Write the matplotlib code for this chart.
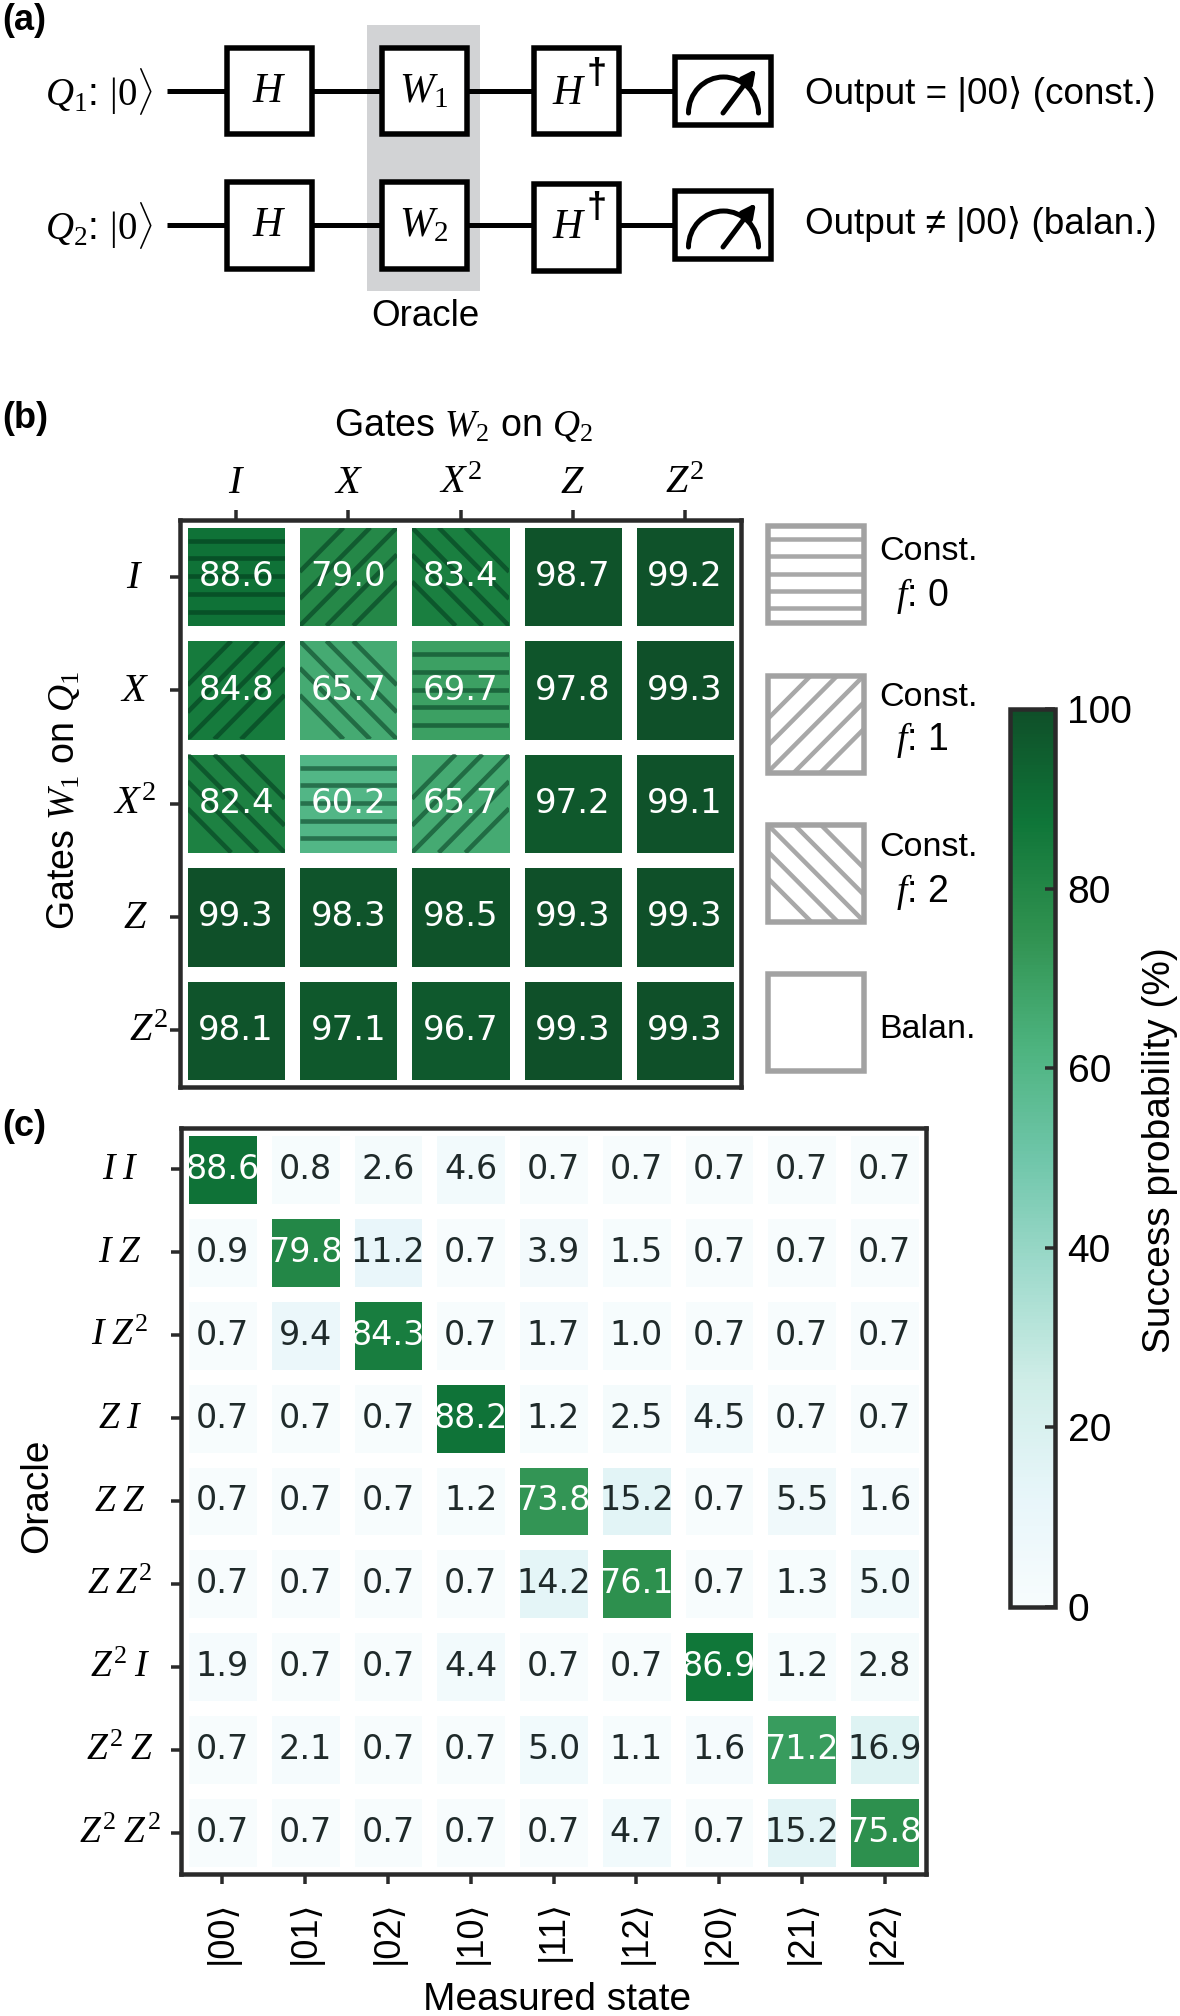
import numpy as np
import matplotlib
matplotlib.use('Agg')
import matplotlib.pyplot as plt
from matplotlib.collections import LineCollection
from matplotlib.colors import ListedColormap
from matplotlib.patches import Rectangle, Arc

plt.rcParams['font.family'] = ['Liberation Sans', 'DejaVu Sans']
plt.rcParams['mathtext.fontset'] = 'custom'
plt.rcParams['mathtext.rm'] = 'Liberation Serif'
plt.rcParams['mathtext.it'] = 'Liberation Serif:italic'
plt.rcParams['mathtext.bf'] = 'Liberation Serif:bold'

# panel b data
gates_w2 = [r'$I$', r'$X$', r'$X^2$', r'$Z$', r'$Z^2$']
gates_w1 = [r'$I$', r'$X$', r'$X^2$', r'$Z$', r'$Z^2$']
success_b = np.array([
    [88.6, 79.0, 83.4, 98.7, 99.2],
    [84.8, 65.7, 69.7, 97.8, 99.3],
    [82.4, 60.2, 65.7, 97.2, 99.1],
    [99.3, 98.3, 98.5, 99.3, 99.3],
    [98.1, 97.1, 96.7, 99.3, 99.3],
])
hatch_b = [
    ['-', '/', '\\', '', ''],
    ['/', '\\', '-', '', ''],
    ['\\', '-', '/', '', ''],
    ['', '', '', '', ''],
    ['', '', '', '', ''],
]

# panel c data
oracles = [r'$I\;I$', r'$I\;Z$', r'$I\;Z^2$', r'$Z\;I$', r'$Z\;Z$', r'$Z\;Z^2$',
           r'$Z^2\;I$', r'$Z^2\;Z$', r'$Z^2\;Z^2$']
states = ['|00⟩', '|01⟩', '|02⟩', '|10⟩', '|11⟩', '|12⟩', '|20⟩', '|21⟩', '|22⟩']
success_c = np.array([
    [88.6, 0.8, 2.6, 4.6, 0.7, 0.7, 0.7, 0.7, 0.7],
    [0.9, 79.8, 11.2, 0.7, 3.9, 1.5, 0.7, 0.7, 0.7],
    [0.7, 9.4, 84.3, 0.7, 1.7, 1.0, 0.7, 0.7, 0.7],
    [0.7, 0.7, 0.7, 88.2, 1.2, 2.5, 4.5, 0.7, 0.7],
    [0.7, 0.7, 0.7, 1.2, 73.8, 15.2, 0.7, 5.5, 1.6],
    [0.7, 0.7, 0.7, 0.7, 14.2, 76.1, 0.7, 1.3, 5.0],
    [1.9, 0.7, 0.7, 4.4, 0.7, 0.7, 86.9, 1.2, 2.8],
    [0.7, 2.1, 0.7, 0.7, 5.0, 1.1, 1.6, 71.2, 16.9],
    [0.7, 0.7, 0.7, 0.7, 0.7, 4.7, 0.7, 15.2, 75.8],
])
cbar_ticks = [0, 20, 40, 60, 80, 100]

W, H = 1180, 2016
px = 72 / 100  # pt per pixel
dark = '#2a2a2a'
gray = '#a2a2a2'

# BuGn a little washed out, as the printed figure
base = plt.get_cmap('BuGn')(np.linspace(0, 1, 256))[:, :3]
cmap = ListedColormap(base + (1 - base) * 0.06)

fig = plt.figure(figsize=(W / 100, H / 100), dpi=100)

def axes_px(x0, y0, x1, y1):
    return fig.add_axes([x0 / W, 1 - y1 / H, (x1 - x0) / W, (y1 - y0) / H])

def hatch(ax, x0, y0, w, h, kind, color, lw, alpha=1.0):
    # hatch lines inside a cell, y axis pointing down
    segs = []
    if kind == '-':
        for k in range(5):
            y = y0 + h * (0.135 + 0.18 * k)
            segs.append([(x0, y), (x0 + w, y)])
    elif kind in ('/', '\\'):
        for k in range(-2, 3):
            c = 0.275 * k
            u0, u1 = max(0, -c), min(1, 1 - c)
            if kind == '/':
                segs.append([(x0 + w * u0, y0 + h * (1 - u0 - c)), (x0 + w * u1, y0 + h * (1 - u1 - c))])
            else:
                segs.append([(x0 + w * u0, y0 + h * (u0 + c)), (x0 + w * u1, y0 + h * (u1 + c))])
    if not segs:
        return
    lc = LineCollection(segs, colors=color, linewidths=lw, alpha=alpha, zorder=3)
    ax.add_collection(lc)
    lc.set_clip_path(Rectangle((x0, y0), w, h, transform=ax.transData))

def heat(ax, values, txt_size, dark_text='#1f2a2a'):
    m = ax.pcolormesh(values, cmap=cmap, vmin=0, vmax=100, edgecolors='white', linewidth=15 * px)
    ax.invert_yaxis()
    for i in range(values.shape[0]):
        for j in range(values.shape[1]):
            col = 'white' if values[i, j] > 50 else dark_text
            ax.text(j + 0.5, i + 0.5, '%.1f' % values[i, j], ha='center', va='center',
                    fontsize=txt_size, color=col, family='DejaVu Sans', zorder=5)
    for s in ax.spines.values():
        s.set_linewidth(4.5 * px)
        s.set_color(dark)
        s.set_zorder(6)
    return m

# overlay for the drawn parts, in pixel coordinates
bg = fig.add_axes([0, 0, 1, 1], zorder=0)
bg.set_xlim(0, W)
bg.set_ylim(H, 0)
bg.axis('off')

# (a) circuit
bg.add_patch(Rectangle((367, 25), 113, 266, fc='#d2d3d5', ec='none', zorder=0))
for y in [91, 225]:
    bg.plot([167, 675], [y, y], color='black', lw=5 * px, solid_capstyle='butt', zorder=1)

def gate(x0, x1, y0, y1, label, lx=None, ly=None):
    bg.add_patch(Rectangle((x0, y0), x1 - x0, y1 - y0, fc='white', ec='black', lw=5.5 * px, zorder=2))
    bg.text((x0 + x1) / 2 if lx is None else lx, (y0 + y1) / 2 if ly is None else ly, label,
            ha='center', va='center', fontsize=30, zorder=3)

def meter(y0, y1):
    bg.add_patch(Rectangle((675, y0), 96, y1 - y0, fc='white', ec='black', lw=5.5 * px, zorder=2))
    b = y0 + 56
    bg.add_patch(Arc((723.5, b), 70, 72, theta1=180, theta2=360, color='black', lw=5 * px,
                     capstyle='round', zorder=3))
    bg.annotate('', xy=(756, b - 44), xytext=(723, b), zorder=3,
                arrowprops=dict(arrowstyle='-|>', color='black', lw=5 * px, mutation_scale=20,
                                shrinkA=0, shrinkB=0))

gate(227, 312, 48, 134, r'$H$')
gate(381.5, 466.5, 48, 134, r'$W_1$')
gate(534, 619, 48, 134, r'$H$', 569, 93)
bg.text(597, 75, '†', ha='center', va='center', fontsize=26, fontweight='bold', zorder=3)
meter(57, 125)
gate(227, 312, 182, 269, r'$H$')
gate(381.5, 466.5, 182, 269, r'$W_2$')
gate(534, 619, 184, 271, r'$H$', 569, 227)
bg.text(597, 209, '†', ha='center', va='center', fontsize=26, fontweight='bold', zorder=3)
meter(191, 259)

bg.text(99, 91, r'$Q_1$: $|0\rangle$', ha='center', va='center', fontsize=28)
bg.text(99, 225, r'$Q_2$: $|0\rangle$', ha='center', va='center', fontsize=28)
bg.text(805, 94, 'Output = |00⟩ (const.)', ha='left', va='center', fontsize=26.6)
bg.text(805, 224, 'Output ≠ |00⟩ (balan.)', ha='left', va='center', fontsize=26.6)
bg.text(425, 316, 'Oracle', ha='center', va='center', fontsize=26.5)

for lab, y in [('(a)', 20), ('(b)', 419), ('(c)', 1127)]:
    bg.text(2, y, lab, ha='left', va='center', fontsize=26, fontweight='bold')

# (b) heatmap
axb = axes_px(180, 520, 741, 1087)
axb.set_zorder(1)
mesh = heat(axb, success_b, 24.5)
inset_x = 7.5 / 112.2
inset_y = 7.5 / 113.4
for i, row in enumerate(hatch_b):
    for j, kind in enumerate(row):
        hatch(axb, j + inset_x, i + inset_y, 1 - 2 * inset_x, 1 - 2 * inset_y, kind, '#00331a', 4.6 * px, 0.52)
axb.xaxis.tick_top()
axb.set_xticks(np.arange(5) + 0.5)
axb.set_xticklabels(gates_w2, fontsize=29)
axb.set_yticks(np.arange(5) + 0.5)
axb.set_yticklabels([])
axb.tick_params(length=8 * px * 1.2, width=3.5 * px, color=dark, pad=7)
for i, lab in enumerate(gates_w1):
    cx = 149 if i == 4 else 135
    axb.text((cx - 180) / 561, i + 0.5, lab, transform=axb.get_yaxis_transform(),
             ha='center', va='center', fontsize=29, clip_on=False)
bg.text(463, 426, r'Gates $W_2$ on $Q_2$', ha='center', va='center', fontsize=27)
bg.text(64, 800, r'Gates $W_1$ on $Q_1$', ha='center', va='center', fontsize=27, rotation=90)

# legend boxes
boxes = [(525.5, '-'), (675.5, '/'), (824.5, '\\'), (973.5, '')]
for y0, kind in boxes:
    hatch(bg, 767.5, y0, 96.5, 97, kind, '#a8a8a8', 4.5 * px)
    bg.add_patch(Rectangle((767.5, y0), 96.5, 97, fc='none', ec=gray, lw=5.5 * px, zorder=4))
for y, lab in [(552, 'Const.'), (698, 'Const.'), (848, 'Const.')]:
    bg.text(879, y, lab, ha='left', va='center', fontsize=24.5)
for y, lab in [(596, r'$f$: 0'), (740, r'$f$: 1'), (892, r'$f$: 2')]:
    bg.text(896, y, lab, ha='left', va='center', fontsize=27)
bg.text(879, 1030, 'Balan.', ha='left', va='center', fontsize=24.5)

# (c) heatmap
axc = axes_px(181, 1128, 926, 1874)
axc.set_zorder(1)
heat(axc, success_c, 24)
axc.set_xticks(np.arange(9) + 0.5)
axc.set_xticklabels(states, rotation=90, fontsize=26)
axc.set_yticks(np.arange(9) + 0.5)
axc.set_yticklabels([])
axc.tick_params(length=8 * px * 1.2, width=3.5 * px, color=dark)
axc.tick_params(axis='x', pad=12)
for i, lab in enumerate(oracles):
    axc.text((120 - 181) / 745, i + 0.5, lab, transform=axc.get_yaxis_transform(),
             ha='center', va='center', fontsize=27, clip_on=False)
bg.text(557, 2000, 'Measured state', ha='center', va='center', fontsize=28)
bg.text(37, 1496, 'Oracle', ha='center', va='center', fontsize=28, rotation=90)

# colorbar
cax = axes_px(1010, 709, 1055, 1607)
cb = fig.colorbar(mesh, cax=cax, ticks=cbar_ticks)
cb.outline.set_linewidth(4.5 * px)
cb.outline.set_edgecolor(dark)
cax.tick_params(direction='in', length=10 * px, width=3.5 * px, color=dark, labelsize=28, pad=9)
bg.text(1160, 1150, 'Success probability (%)', ha='center', va='center', fontsize=28, rotation=90)

fig.savefig('out.png', dpi=100)
